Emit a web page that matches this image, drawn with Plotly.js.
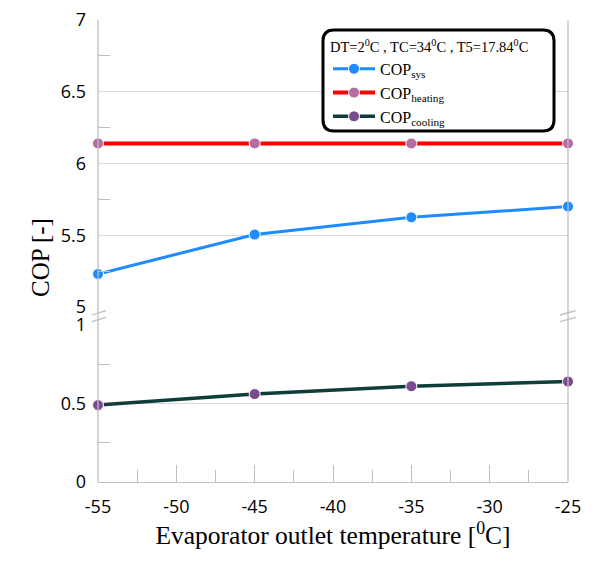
<!DOCTYPE html>
<html><head><meta charset="utf-8">
<script src="https://cdn.plot.ly/plotly-3.0.1.min.js"></script>
<style>html,body{margin:0;padding:0;background:#fff}#chart{width:599px;height:561px}</style>
</head><body><div id="chart"></div>
<script>
var temps = [-55, -45, -35, -25];
var copSys = [5.23, 5.505, 5.625, 5.70];
var copHeating = [6.14, 6.14, 6.14, 6.14];
var copCooling = [0.49, 0.56, 0.61, 0.64];
var xTicks = [-55, -50, -45, -40, -35, -30, -25];
var xTickText = ['-55', '-50', '-45', '-40', '-35', '-30', '-25'];
var legendTitle = 'DT=2<sup>0</sup>C , TC=34<sup>0</sup>C , T5=17.84<sup>0</sup>C';

var serif = 'Liberation Serif, Times New Roman, serif';
var sans = 'Open Sans, Noto Sans, sans-serif';
var gridC = '#d9d9d9', axC = '#bfbfbf';

var traces = [
  {x: temps, y: copSys, name: 'COP<sub>sys</sub>', type: 'scatter', mode: 'lines+markers', xaxis: 'x', yaxis: 'y',
   line: {color: '#1e8cff', width: 3}, marker: {color: '#1e8cff', size: 11, line: {color: '#fff', width: 1}}, cliponaxis: false},
  {x: temps, y: copHeating, name: 'COP<sub>heating</sub>', type: 'scatter', mode: 'lines+markers', xaxis: 'x', yaxis: 'y',
   line: {color: '#ff0000', width: 4}, marker: {color: '#b56ba3', size: 11, line: {color: '#fff', width: 1}}, cliponaxis: false},
  {x: temps, y: copCooling, name: 'COP<sub>cooling</sub>', type: 'scatter', mode: 'lines+markers', xaxis: 'x', yaxis: 'y2',
   line: {color: '#0f3d3a', width: 3.5}, marker: {color: '#7b4b8f', size: 11, line: {color: '#fff', width: 1}}, cliponaxis: false}
];

function px2x(p){return (p-98)/470;}
function px2y(p){return (482-p)/462;}
var lx0 = px2x(323), lx1 = px2x(554), ly0 = px2y(131), ly1 = px2y(30);
var rx = 11/470, ry = 11/462;
var rr = 'M '+(lx0+rx)+','+ly1+' L '+(lx1-rx)+','+ly1+' Q '+lx1+','+ly1+' '+lx1+','+(ly1-ry)+
  ' L '+lx1+','+(ly0+ry)+' Q '+lx1+','+ly0+' '+(lx1-rx)+','+ly0+' L '+(lx0+rx)+','+ly0+
  ' Q '+lx0+','+ly0+' '+lx0+','+(ly0+ry)+' L '+lx0+','+(ly1-ry)+' Q '+lx0+','+ly1+' '+(lx0+rx)+','+ly1+' Z';

var brk = function(x0, x1){
  return [
    {type:'line', xref:'paper', yref:'paper', x0:x0, x1:x1, y0:px2y(315), y1:px2y(310.7), line:{color:axC, width:1.3}},
    {type:'line', xref:'paper', yref:'paper', x0:x0, x1:x1, y0:px2y(321.7), y1:px2y(317.3), line:{color:axC, width:1.3}}
  ];
};

var layout = {
  width: 599, height: 561,
  margin: {l: 98, r: 31, t: 20, b: 79},
  paper_bgcolor: '#fff', plot_bgcolor: '#fff',
  showlegend: true,
  xaxis: {range: [-55, -25], anchor: 'y2', tickvals: xTicks, ticktext: xTickText, ticks: 'inside', ticklen: 17, tickcolor: axC, tickwidth: 1,
    minor: {dtick: 2.5, ticks: 'inside', ticklen: 12, tickcolor: axC, showgrid: false},
    showgrid: false, zeroline: false, showline: true, linecolor: axC, linewidth: 1.3,
    tickfont: {family: sans, size: 18, color: '#000'}, ticklabelstandoff: 8,
    title: {text: 'Evaporator outlet temperature [<sup>0</sup>C]', font: {family: serif, size: 25.5, color: '#000'}, standoff: 6}},
  yaxis: {domain: [px2y(307), 1], range: [5, 7], dtick: 0.5, anchor: 'x', showgrid: true, gridcolor: gridC, gridwidth: 1.3,
    ticks: '', zeroline: false, showline: false,
    minor: {dtick: 0.25, ticks: 'inside', ticklen: 12, tickcolor: axC, showgrid: false},
    tickfont: {family: sans, size: 18, color: '#000'}, ticklabelstandoff: 11},
  yaxis2: {domain: [0, px2y(325)], range: [0, 1], dtick: 0.5, anchor: 'x', showgrid: true, gridcolor: gridC, gridwidth: 1.3,
    ticks: '', zeroline: false, showline: false,
    minor: {dtick: 0.25, ticks: 'inside', ticklen: 12, tickcolor: axC, showgrid: false},
    tickfont: {family: sans, size: 18, color: '#000'}, ticklabelstandoff: 11},
  annotations: [{text: 'COP [-]', xref: 'paper', yref: 'paper', x: px2x(40), y: px2y(258), xanchor: 'center', yanchor: 'middle', textangle: -90,
    showarrow: false, font: {family: serif, size: 25, color: '#000'}}],
  legend: {x: px2x(328), y: px2y(33), xanchor: 'left', yanchor: 'top', bgcolor: 'rgba(0,0,0,0)', borderwidth: 0,
    font: {family: serif, size: 16, color: '#000'}, tracegroupgap: 0, itemwidth: 42,
    title: {text: legendTitle, side: 'top', font: {family: serif, size: 14.5, color: '#000'}}},
  shapes: [
    {type:'line', xref:'paper', yref:'paper', x0:0, x1:0, y0:0, y1:1, line:{color:axC, width:1.3}},
    {type:'line', xref:'paper', yref:'paper', x0:1, x1:1, y0:0, y1:1, line:{color:axC, width:1.3}},
    {type:'path', xref:'paper', yref:'paper', path: rr, fillcolor:'#fff', line:{color:'#000', width:3}, layer:'above'}
  ].concat(brk(px2x(91.7), px2x(106))).concat(brk(px2x(560), px2x(575.7)))
};

Plotly.newPlot('chart', traces, layout, {displayModeBar: false, responsive: false});
</script></body></html>
